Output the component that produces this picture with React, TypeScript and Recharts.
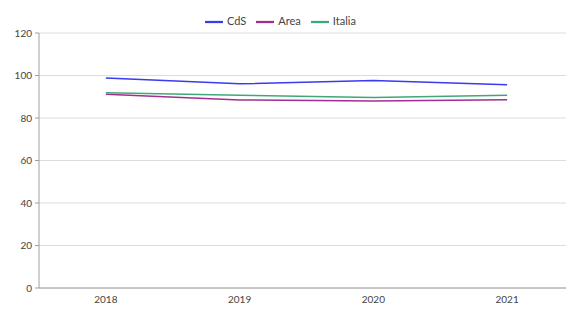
import React from "react";
import { LineChart, Line, XAxis, YAxis, CartesianGrid, Legend } from "recharts";

const years = ["2018", "2019", "2020", "2021"];
const cds = [98.8, 96.1, 97.6, 95.7];
const area = [91.2, 88.5, 88.0, 88.6];
const italia = [91.9, 90.7, 89.6, 90.7];
const yTicks = [0, 20, 40, 60, 80, 100, 120];
const seriesOrder = ["CdS", "Area", "Italia"];

const data = years.map((year, i) => ({
  year,
  CdS: cds[i],
  Area: area[i],
  Italia: italia[i],
}));

const font = "Lato, 'Open Sans', sans-serif";

export default function App() {
  return (
    <div style={{ width: 566, height: 304, fontFamily: font }}>
      <LineChart width={566} height={304} data={data} margin={{ top: 7, right: 0, left: 0, bottom: 4 }}>
        <CartesianGrid vertical={false} stroke="#dcdcdc" />
        <XAxis
          dataKey="year"
          scale="band"
          height={20}
          tickLine={false}
          axisLine={{ stroke: "#a0a0a0" }}
          tick={{ fontSize: 10, fill: "#444", fontFamily: font }}
        />
        <YAxis
          width={31}
          domain={[0, 120]}
          ticks={yTicks}
          tickSize={4}
          tickMargin={3}
          axisLine={{ stroke: "#a0a0a0" }}
          tickLine={{ stroke: "#a0a0a0" }}
          tick={{ fontSize: 10, fill: "#444", fontFamily: font }}
        />
        <Legend
          verticalAlign="top"
          align="left"
          iconType="plainline"
          iconSize={18}
          itemSorter={(item: any) => seriesOrder.indexOf(item.value)}
          wrapperStyle={{ left: 197, top: 5, width: 170, fontSize: 11, fontFamily: font }}
          formatter={(v: string) => <span style={{ color: "#444" }}>{v}</span>}
        />
        <Line dataKey="CdS" stroke="#3a3af0" strokeWidth={1.5} dot={false} isAnimationActive={false} />
        <Line dataKey="Area" stroke="#a0308f" strokeWidth={1.5} dot={false} isAnimationActive={false} />
        <Line dataKey="Italia" stroke="#40a878" strokeWidth={1.5} dot={false} isAnimationActive={false} />
      </LineChart>
    </div>
  );
}
